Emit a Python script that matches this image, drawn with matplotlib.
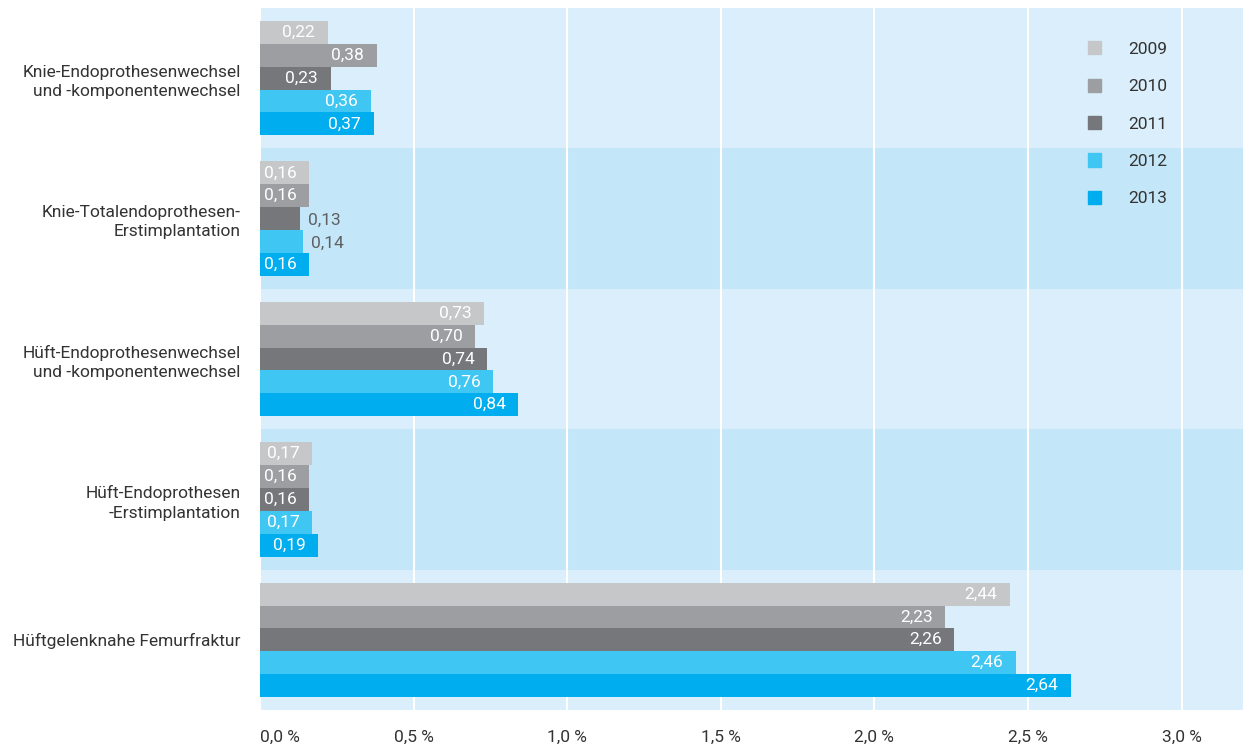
import numpy as np
import matplotlib.pyplot as plt
from matplotlib.patches import Patch

plt.rcParams['font.family'] = ['Roboto', 'DejaVu Sans']

# Datos
kategorien = ['Knie-Endoprothesenwechsel\nund -komponentenwechsel',
              'Knie-Totalendoprothesen-\nErstimplantation',
              'Hüft-Endoprothesenwechsel\nund -komponentenwechsel',
              'Hüft-Endoprothesen\n-Erstimplantation',
              'Hüftgelenknahe Femurfraktur']
jahre = ['2009', '2010', '2011', '2012', '2013']
w2009 = [0.22, 0.16, 0.73, 0.17, 2.44]
w2010 = [0.38, 0.16, 0.70, 0.16, 2.23]
w2011 = [0.23, 0.13, 0.74, 0.16, 2.26]
w2012 = [0.36, 0.14, 0.76, 0.17, 2.46]
w2013 = [0.37, 0.16, 0.84, 0.19, 2.64]
werte = [w2009, w2010, w2011, w2012, w2013]
farben = ['#c6c7c9', '#9d9ea2', '#76777b', '#40c6f3', '#00aeef']
ticks = [0.0, 0.5, 1.0, 1.5, 2.0, 2.5, 3.0]

fs = 12.5
fig = plt.figure(figsize=(12.43, 7.44), dpi=100)
ax = fig.add_axes([260/1243, 1 - 710/744, 983/1243, 702/744])

y = np.arange(len(kategorien))
h = 0.1628  # alto de barra

# Bandas de fondo
for i in y:
    col = '#daeffb' if i % 2 == 0 else '#c3e6f8'
    ax.axhspan(i - 0.5, i + 0.5, color=col, zorder=0, lw=0)

for k in range(len(jahre)):
    pos = y - 0.407 + (k + 0.5) * h
    ax.barh(pos, werte[k], height=h, color=farben[k], zorder=3, label=jahre[k])
    for p, v in zip(pos, werte[k]):
        txt = f'{v:.2f}'.replace('.', ',')
        if v >= 0.155:
            ax.annotate(txt, (v, p), xytext=(-9, 0), textcoords='offset points',
                        ha='right', va='center', color='white', fontsize=fs, zorder=4)
        else:
            ax.annotate(txt, (v, p), xytext=(6, -1), textcoords='offset points',
                        ha='left', va='center', color='#5f6062', fontsize=fs, zorder=4)

ax.set_xlim(0, 3.2)
ax.set_ylim(len(kategorien) - 0.5, -0.5)
ax.set_xticks(ticks)
ax.set_xticklabels([f'{t:.1f}'.replace('.', ',') + ' %' for t in ticks],
                   fontsize=fs, color='#333333')
ax.get_xticklabels()[0].set_ha('left')
ax.set_yticks(y)
ax.set_yticklabels(kategorien, fontsize=fs, color='#333333', multialignment='right',
                   linespacing=1.35)
ax.tick_params(axis='both', length=0)
ax.tick_params(axis='y', pad=14)
ax.tick_params(axis='x', pad=14)
ax.grid(axis='x', color='white', linewidth=1.5, zorder=1)
ax.set_axisbelow(True)
for s in ax.spines.values():
    s.set_visible(False)

handles = [Patch(color=c) for c in farben]
leg = ax.legend(handles, jahre, loc='upper left', bbox_to_anchor=(0.826, 0.975),
                frameon=False, fontsize=fs, handlelength=0.8, handleheight=0.8,
                handletextpad=1.55, labelspacing=1.25, labelcolor='#333333')

fig.savefig('out.png', dpi=100)
